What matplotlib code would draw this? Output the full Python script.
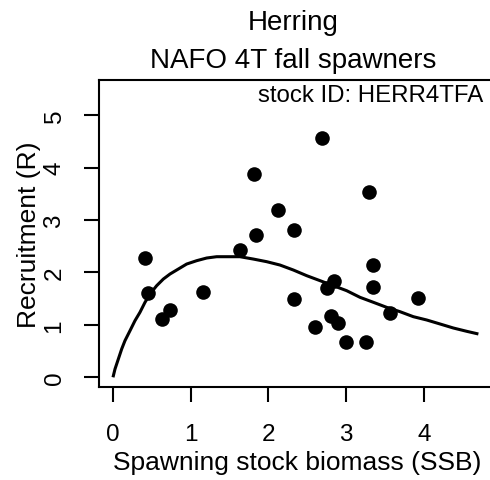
import matplotlib
matplotlib.use("Agg")
import matplotlib.pyplot as plt

plt.rcParams['font.family'] = ['Liberation Sans', 'DejaVu Sans']

# Observed stock-recruitment points (SSB, R)
ssb = [0.41, 0.45, 0.63, 0.73, 1.16, 1.64, 1.81, 1.84, 2.12, 2.33, 2.33,
       2.69, 2.60, 2.75, 2.85, 2.81, 2.90, 3.00, 3.26, 3.29, 3.34, 3.34,
       3.57, 3.93]
rec = [2.27, 1.60, 1.12, 1.28, 1.62, 2.43, 3.88, 2.72, 3.19, 2.80, 1.49,
       4.56, 0.95, 1.71, 1.84, 1.17, 1.03, 0.67, 0.67, 3.53, 2.15, 1.73,
       1.23, 1.51]

# Fitted curve
curve_x = [0.0, 0.026, 0.069, 0.112, 0.154, 0.219, 0.283, 0.347, 0.412, 0.476,
           0.562, 0.648, 0.734, 0.841, 0.948, 1.077, 1.206, 1.334, 1.634, 1.806,
           1.978, 2.149, 2.321, 2.493, 2.664, 2.836, 3.007, 3.179, 3.351, 3.522,
           3.694, 3.865, 4.037, 4.208, 4.380, 4.552, 4.702]
curve_y = [0.0, 0.158, 0.349, 0.540, 0.698, 0.889, 1.080, 1.239, 1.430, 1.588,
           1.747, 1.874, 1.970, 2.065, 2.160, 2.224, 2.275, 2.300, 2.300, 2.255,
           2.205, 2.141, 2.046, 1.938, 1.843, 1.747, 1.652, 1.525, 1.430, 1.334,
           1.251, 1.156, 1.093, 1.017, 0.940, 0.877, 0.826]

xticks = [0, 1, 2, 3, 4]
yticks = [0, 1, 2, 3, 4, 5]

W, H = 490, 481
fig = plt.figure(figsize=(W / 100, H / 100), dpi=100)

def px(x, y):
    return x / W, 1 - y / H

FS_TITLE = 20
FS_LAB = 19
FS_TICK = 17.5
FS_ID = 17.3

left, top, right, bottom = 99, 81, 493, 388
ax = fig.add_axes([left / W, 1 - bottom / H, (right - left) / W, (bottom - top) / H])
ax.set_xlim(-0.18, 4.89)
ax.set_ylim(-0.185, 5.67)

ax.plot(curve_x, curve_y, color='black', lw=2.2, solid_capstyle='butt',
        solid_joinstyle='round')
ax.plot(ssb, rec, 'o', color='black', ms=10.5, mew=0)

for s in ax.spines.values():
    s.set_linewidth(1.5)
ax.spines['right'].set_visible(False)

ax.set_xticks(xticks)
ax.set_yticks(yticks)
ax.tick_params(direction='out', length=11, width=1.5, labelsize=FS_TICK)
ax.tick_params(axis='x', pad=15)
ax.tick_params(axis='y', pad=21)
ax.set_yticklabels([str(v) for v in yticks], rotation=90, va='center', ha='center')

fig.text(*px(293, 30), "Herring", ha='center', va='baseline', fontsize=FS_TITLE)
fig.text(*px(293, 68), "NAFO 4T fall spawners", ha='center', va='baseline', fontsize=FS_TITLE)
fig.text(*px(483, 102), "stock ID: HERR4TFA", ha='right', va='baseline', fontsize=FS_ID)
fig.text(*px(297, 470), "Spawning stock biomass (SSB)", ha='center', va='baseline', fontsize=FS_LAB)
fig.text(*px(29, 235), "Recruitment (R)", ha='center', va='center', rotation=90, fontsize=FS_LAB)

fig.savefig("out.png", dpi=100)
